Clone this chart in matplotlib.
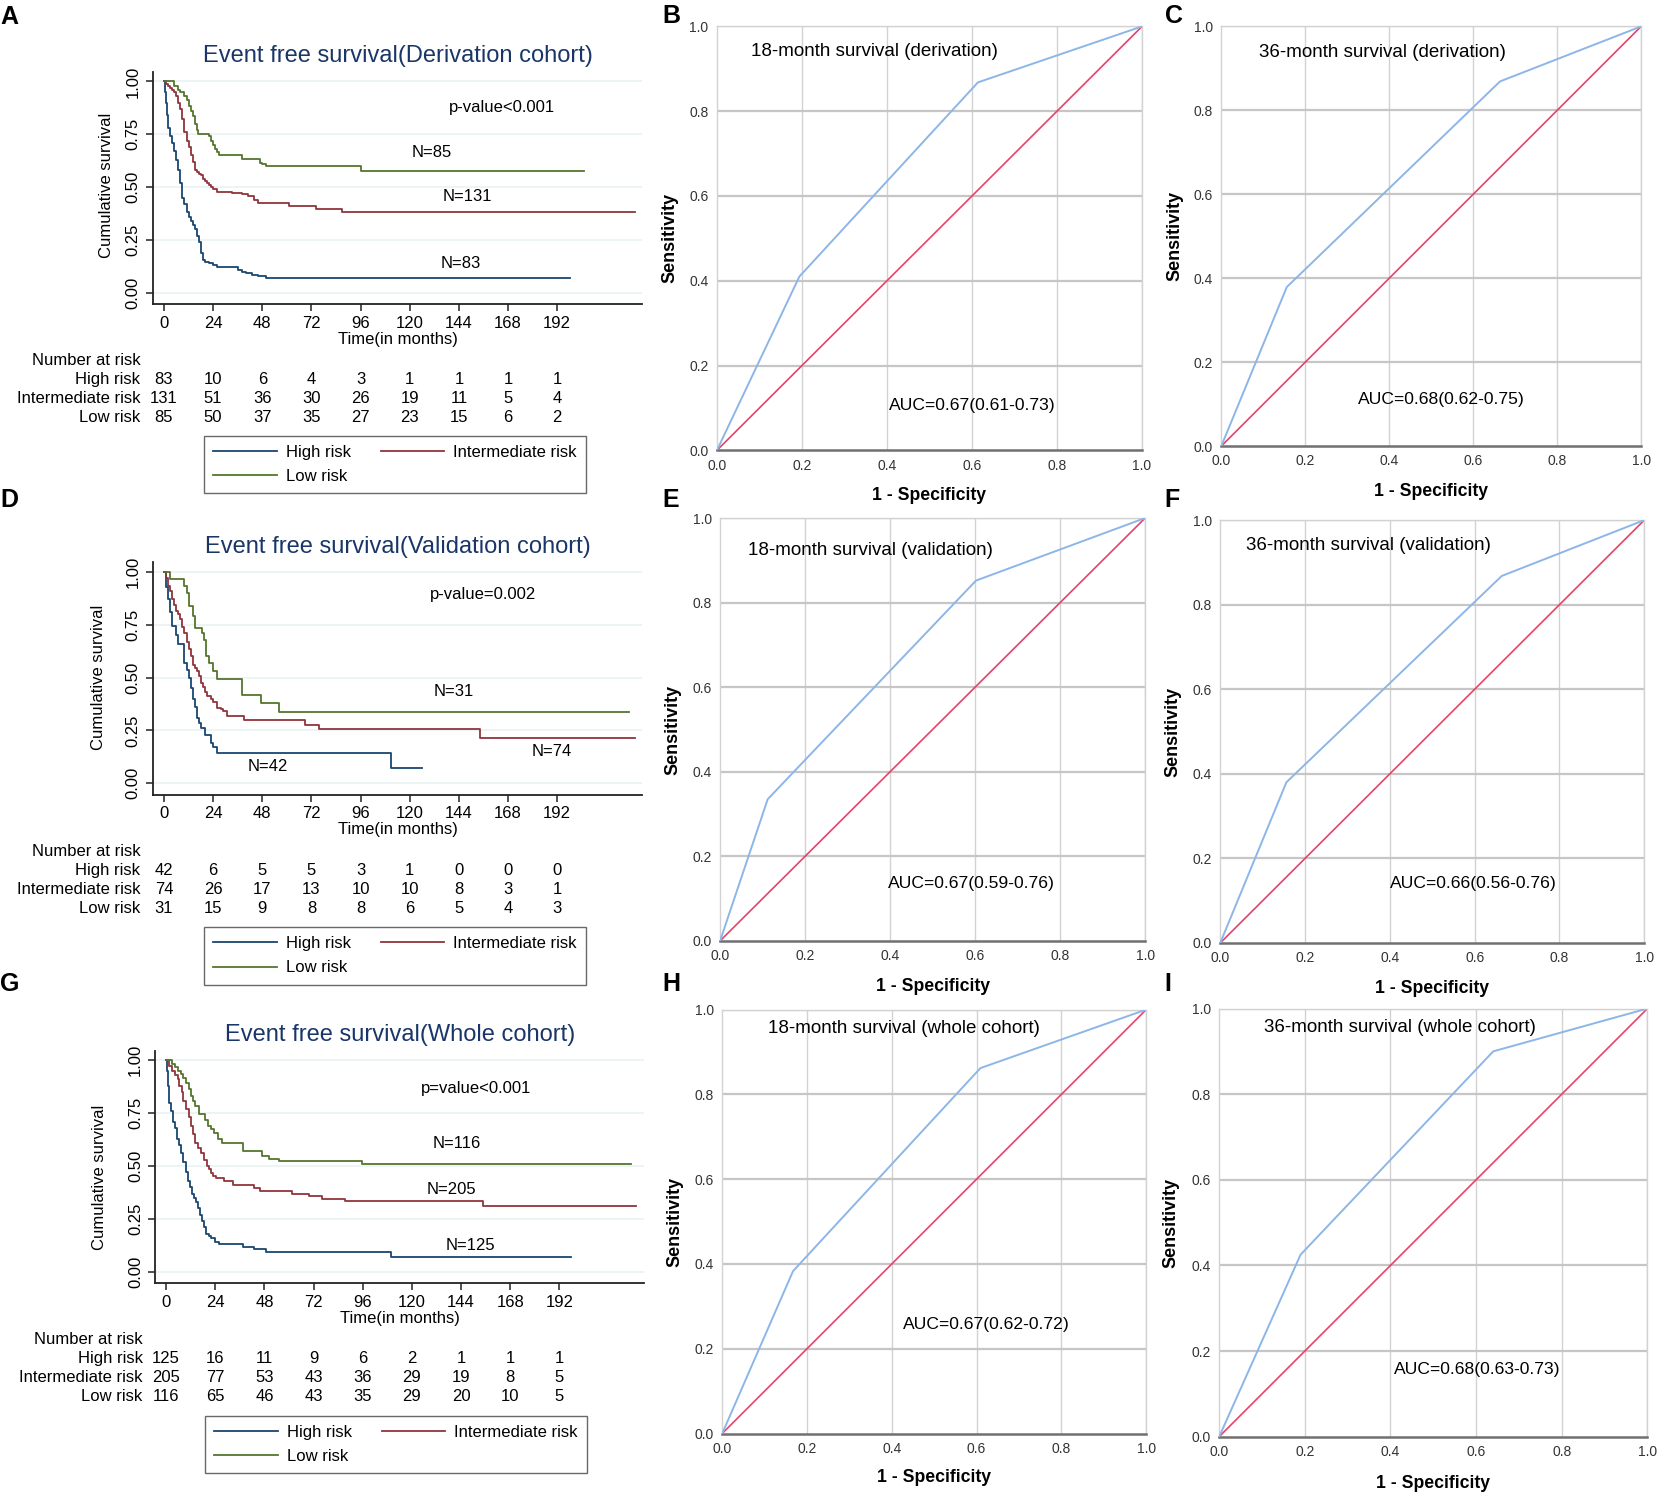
import matplotlib
matplotlib.use('Agg')
import matplotlib.pyplot as plt
import matplotlib.transforms as mtransforms
from matplotlib.lines import Line2D

plt.rcParams['font.family'] = ['Liberation Sans', 'DejaVu Sans']

# ---------------- data ----------------
# Kaplan-Meier step points (time in months, survival)
A_high_t = [0, 0.5, 1, 1.5, 2, 3, 4, 5, 6, 7, 8, 9, 10, 11, 12, 13, 14, 15, 16, 17, 18, 19, 20, 22, 24, 26, 36, 38, 40, 43, 46, 50, 198]
A_high_s = [1.0, 0.95, 0.90, 0.84, 0.78, 0.74, 0.71, 0.67, 0.63, 0.58, 0.52, 0.45, 0.42, 0.38, 0.36, 0.34, 0.32, 0.30, 0.27, 0.24, 0.19, 0.155, 0.145, 0.14, 0.13, 0.122, 0.11, 0.10, 0.094, 0.084, 0.078, 0.068, 0.068]
A_mid_t = [0, 1, 2, 3, 4, 5, 6, 7, 8, 9, 10, 11, 12, 13, 14, 15, 16, 17, 18, 19, 20, 21, 22, 23, 24, 26, 33, 38, 41, 44, 46, 61, 74, 87, 230]
A_mid_s = [1.0, 0.99, 0.98, 0.97, 0.96, 0.95, 0.93, 0.90, 0.87, 0.82, 0.76, 0.72, 0.69, 0.65, 0.62, 0.58, 0.57, 0.56, 0.555, 0.54, 0.53, 0.52, 0.51, 0.50, 0.49, 0.475, 0.47, 0.468, 0.457, 0.44, 0.425, 0.41, 0.397, 0.38, 0.38]
A_low_t = [0, 4, 5, 7, 8, 10, 11, 12, 13, 14, 15, 16, 16.5, 22, 23, 24, 25, 26, 27, 38, 47, 48, 50, 96, 205]
A_low_s = [1.0, 1.0, 0.98, 0.96, 0.95, 0.93, 0.91, 0.885, 0.86, 0.835, 0.80, 0.77, 0.75, 0.74, 0.72, 0.70, 0.68, 0.665, 0.65, 0.634, 0.615, 0.61, 0.60, 0.578, 0.578]

D_high_t = [0, 1, 2, 3, 4, 6, 7, 10, 11, 12, 13, 14, 15, 16, 17, 18, 20, 23, 24, 26, 111, 126]
D_high_s = [1.0, 0.93, 0.87, 0.81, 0.745, 0.70, 0.66, 0.57, 0.535, 0.50, 0.45, 0.40, 0.36, 0.31, 0.285, 0.26, 0.23, 0.19, 0.17, 0.143, 0.071, 0.071]
D_mid_t = [0, 1, 2, 3, 4, 5, 6, 7, 8, 9, 10, 11, 12, 13, 14, 15, 16, 17, 18, 19, 20, 21, 23, 24, 26, 28, 29, 31, 39, 69, 75.5, 154.5, 230]
D_mid_s = [1.0, 0.97, 0.935, 0.91, 0.87, 0.845, 0.816, 0.80, 0.777, 0.74, 0.71, 0.67, 0.634, 0.60, 0.56, 0.547, 0.53, 0.51, 0.475, 0.455, 0.43, 0.415, 0.40, 0.385, 0.357, 0.35, 0.34, 0.317, 0.30, 0.277, 0.257, 0.214, 0.214]
D_low_t = [0, 3, 9.7, 11.4, 12.4, 14, 15, 18.6, 19.7, 20.7, 22, 24, 26, 38.3, 47.2, 56, 227]
D_low_s = [1.0, 0.968, 0.935, 0.90, 0.84, 0.79, 0.737, 0.71, 0.68, 0.60, 0.57, 0.53, 0.495, 0.42, 0.38, 0.338, 0.338]

G_high_t = [0, 0.5, 1, 1.5, 2.5, 3.5, 4.5, 5.5, 6.5, 7.5, 8.5, 9.5, 10.5, 11.5, 12.5, 13.5, 14.5, 15.5, 16.5, 17.5, 18.5, 19.5, 21, 22, 24, 26, 37.7, 42.8, 49, 110, 197.5]
G_high_s = [1.0, 0.95, 0.88, 0.80, 0.76, 0.71, 0.68, 0.63, 0.60, 0.56, 0.52, 0.47, 0.43, 0.40, 0.37, 0.35, 0.33, 0.30, 0.27, 0.24, 0.21, 0.18, 0.17, 0.158, 0.14, 0.13, 0.116, 0.106, 0.092, 0.068, 0.068]
G_mid_t = [0, 1.5, 3, 4.5, 5.6, 6.5, 7.7, 8.5, 9.7, 11, 12.2, 13.2, 14.3, 15.5, 17, 18.5, 20, 21, 22, 23, 24.2, 28.3, 32.5, 42.8, 46, 61.5, 69.7, 76, 87.3, 154.6, 229.5]
G_mid_s = [1.0, 0.975, 0.95, 0.93, 0.91, 0.88, 0.848, 0.81, 0.77, 0.73, 0.69, 0.65, 0.61, 0.585, 0.563, 0.53, 0.50, 0.485, 0.468, 0.455, 0.444, 0.428, 0.412, 0.396, 0.38, 0.369, 0.36, 0.344, 0.334, 0.309, 0.309]
G_low_t = [0, 2.5, 3, 4.5, 6, 7.2, 8.5, 9.7, 11, 12.2, 13.2, 14.3, 15.9, 19, 20.7, 22, 23.2, 25.2, 27.3, 37.7, 47, 50, 55.3, 95.6, 226.8]
G_low_s = [1.0, 1.0, 0.985, 0.967, 0.95, 0.935, 0.915, 0.895, 0.865, 0.832, 0.81, 0.785, 0.745, 0.72, 0.69, 0.675, 0.657, 0.626, 0.61, 0.57, 0.547, 0.534, 0.523, 0.512, 0.512]

# number at risk
risk_times = [0, 24, 48, 72, 96, 120, 144, 168, 192]
A_risk_high = [83, 10, 6, 4, 3, 1, 1, 1, 1]
A_risk_mid = [131, 51, 36, 30, 26, 19, 11, 5, 4]
A_risk_low = [85, 50, 37, 35, 27, 23, 15, 6, 2]
D_risk_high = [42, 6, 5, 5, 3, 1, 0, 0, 0]
D_risk_mid = [74, 26, 17, 13, 10, 10, 8, 3, 1]
D_risk_low = [31, 15, 9, 8, 8, 6, 5, 4, 3]
G_risk_high = [125, 16, 11, 9, 6, 2, 1, 1, 1]
G_risk_mid = [205, 77, 53, 43, 36, 29, 19, 8, 5]
G_risk_low = [116, 65, 46, 43, 35, 29, 20, 10, 5]

km_titles = ['Event free survival(Derivation cohort)',
             'Event free survival(Validation cohort)',
             'Event free survival(Whole cohort)']
p_labels = ['p-value<0.001', 'p-value=0.002', 'p=value<0.001']
A_notes = [('N=85', 130.6, 0.665), ('N=131', 148, 0.455), ('N=83', 145, 0.14)]
D_notes = [('N=31', 141.4, 0.435), ('N=74', 189.4, 0.15), ('N=42', 50.6, 0.08)]
G_notes = [('N=116', 142, 0.608), ('N=205', 139.5, 0.388), ('N=125', 148.8, 0.123)]
p_pos = [(165, 0.875), (156, 0.895), (151.3, 0.868)]

# ROC curves: (1 - specificity, sensitivity)
roc_B_x = [0, 0.194, 0.614, 1]
roc_B_y = [0, 0.41, 0.868, 1]
roc_C_x = [0, 0.156, 0.664, 1]
roc_C_y = [0, 0.379, 0.869, 1]
roc_E_x = [0, 0.112, 0.602, 1]
roc_E_y = [0, 0.335, 0.852, 1]
roc_F_x = [0, 0.156, 0.664, 1]
roc_F_y = [0, 0.38, 0.868, 1]
roc_H_x = [0, 0.167, 0.609, 1]
roc_H_y = [0, 0.383, 0.862, 1]
roc_I_x = [0, 0.19, 0.64, 1]
roc_I_y = [0, 0.425, 0.90, 1]
roc_titles = ['18-month survival (derivation)', '36-month survival (derivation)',
              '18-month survival (validation)', '36-month survival (validation)',
              '18-month survival (whole cohort)', '36-month survival (whole cohort)']
auc_labels = ['AUC=0.67(0.61-0.73)', 'AUC=0.68(0.62-0.75)',
              'AUC=0.67(0.59-0.76)', 'AUC=0.66(0.56-0.76)',
              'AUC=0.67(0.62-0.72)', 'AUC=0.68(0.63-0.73)']

# ---------------- layout helpers ----------------
W, H = 1568.0, 1417.0   # measuring grid of the reference


def frame(l, t, r, b):
    return [l / W, 1 - b / H, (r - l) / W, (b - t) / H]


def fy(y):
    return 1 - y / H


c_high = '#1a476f'
c_mid = '#90353b'
c_low = '#55752f'
c_title = '#1a3668'

fig = plt.figure(figsize=(16.58, 14.98), dpi=100)

# ---------------- KM panels ----------------
km_panels = [
    dict(box=(145, 68, 607, 288), title_y=53, ylab_x=101, ylab_y=175, xlab_y=321,
         rows=[341, 359, 377, 395], leg=(193, 412),
         curves=[(A_high_t, A_high_s), (A_mid_t, A_mid_s), (A_low_t, A_low_s)],
         risk=[A_risk_high, A_risk_mid, A_risk_low], notes=A_notes),
    dict(box=(145, 532, 607, 752), title_y=517, ylab_x=93, ylab_y=641, xlab_y=785,
         rows=[805, 823, 841, 859], leg=(193, 877),
         curves=[(D_high_t, D_high_s), (D_mid_t, D_mid_s), (D_low_t, D_low_s)],
         risk=[D_risk_high, D_risk_mid, D_risk_low], notes=D_notes),
    dict(box=(147, 994, 609, 1214), title_y=979, ylab_x=94, ylab_y=1114, xlab_y=1247,
         rows=[1267, 1285, 1303, 1321], leg=(194, 1339),
         curves=[(G_high_t, G_high_s), (G_mid_t, G_mid_s), (G_low_t, G_low_s)],
         risk=[G_risk_high, G_risk_mid, G_risk_low], notes=G_notes),
]

for i, p in enumerate(km_panels):
    l, t, r, b = p['box']
    ax = fig.add_axes(frame(l, t, r, b))
    ax.set_xlim(-5.2, 233.3)
    ax.set_ylim(-0.055, 1.045)
    for yy in [0, 0.25, 0.5, 0.75, 1.0]:
        ax.axhline(yy, color='#eaf2f3', lw=1.2, zorder=0)
    cols = [c_high, c_mid, c_low]
    for (tt, ss), c in zip(p['curves'], cols):
        ax.step(tt, ss, where='post', color=c, lw=1.3)
    ax.spines['top'].set_visible(False)
    ax.spines['right'].set_visible(False)
    for s in ['left', 'bottom']:
        ax.spines[s].set_linewidth(1.3)
        ax.spines[s].set_color('#222222')
    ax.set_xticks(risk_times)
    ax.set_yticks([0, 0.25, 0.5, 0.75, 1.0])
    ax.set_yticklabels(['0.00', '0.25', '0.50', '0.75', '1.00'], rotation=90, va='center')
    ax.tick_params(axis='both', length=5, width=1.1, color='#222222', labelsize=12)
    ax.tick_params(axis='x', pad=3)
    ax.tick_params(axis='y', pad=4)

    cx = (l + r) / 2 / W
    fig.text(cx, fy(p['title_y']), km_titles[i], ha='center', va='center',
             fontsize=17, color=c_title)
    fig.text(p['ylab_x'] / W, fy(p['ylab_y']), 'Cumulative survival', rotation=90,
             ha='center', va='center', fontsize=12)
    fig.text(cx, fy(p['xlab_y']), 'Time(in months)', ha='center', va='center', fontsize=12)

    px, py = p_pos[i]
    ax.text(px, py, p_labels[i], ha='center', va='center', fontsize=12)
    for txt, nx, ny in p['notes']:
        ax.text(nx, ny, txt, ha='center', va='center', fontsize=12)

    # number at risk table
    tr = mtransforms.blended_transform_factory(ax.transData, fig.transFigure)
    ax.text(-11.5, fy(p['rows'][0]), 'Number at risk', transform=tr, ha='right',
            va='center', fontsize=12, clip_on=False)
    for lab, vals, ry in zip(['High risk', 'Intermediate risk', 'Low risk'],
                             p['risk'], p['rows'][1:]):
        ax.text(-11.5, fy(ry), lab, transform=tr, ha='right', va='center',
                fontsize=12, clip_on=False)
        for xt, v in zip(risk_times, vals):
            ax.text(xt, fy(ry), str(v), transform=tr, ha='center', va='center',
                    fontsize=12, clip_on=False)

    # legend
    ll, lt = p['leg']
    handles = [Line2D([], [], color=c_high, lw=1.3),
               Line2D([], [], color=c_low, lw=1.3),
               Line2D([], [], color=c_mid, lw=1.3)]
    leg = ax.legend(handles, ['High risk', 'Low risk', 'Intermediate risk'],
                    loc='upper left', ncol=2,
                    bbox_to_anchor=(ll / W, fy(lt)),
                    bbox_transform=fig.transFigure, fontsize=12, frameon=True,
                    fancybox=False, edgecolor='#444444', borderpad=0.55,
                    labelspacing=0.55, handlelength=3.8, handletextpad=0.55,
                    columnspacing=1.8, borderaxespad=0)
    leg.get_frame().set_linewidth(1.0)

# ---------------- ROC panels ----------------
roc_panels = [
    dict(box=(678, 25, 1080, 426), xy=(roc_B_x, roc_B_y), tpos=(0.08, 0.94),
         apos=(0.6, 0.105), sens_x=634, spec_y=469),
    dict(box=(1155, 25, 1552, 422), xy=(roc_C_x, roc_C_y), tpos=(0.09, 0.937),
         apos=(0.524, 0.111), sens_x=1111, spec_y=465),
    dict(box=(681, 490, 1083, 890), xy=(roc_E_x, roc_E_y), tpos=(0.065, 0.9225),
         apos=(0.592, 0.135), sens_x=636, spec_y=933),
    dict(box=(1154, 492, 1555, 892), xy=(roc_F_x, roc_F_y), tpos=(0.06, 0.94),
         apos=(0.596, 0.14), sens_x=1109, spec_y=935),
    dict(box=(683, 955, 1084, 1356), xy=(roc_H_x, roc_H_y), tpos=(0.107, 0.955),
         apos=(0.623, 0.257), sens_x=638, spec_y=1398),
    dict(box=(1153, 954, 1558, 1359), xy=(roc_I_x, roc_I_y), tpos=(0.104, 0.955),
         apos=(0.602, 0.156), sens_x=1107, spec_y=1403),
]

ticks = [0, 0.2, 0.4, 0.6, 0.8, 1.0]
for i, p in enumerate(roc_panels):
    l, t, r, b = p['box']
    ax = fig.add_axes(frame(l, t, r, b))
    ax.set_xlim(0, 1)
    ax.set_ylim(0, 1)
    for v in ticks[1:]:
        ax.axvline(v, color='#d2d2d2', lw=1.0, zorder=0)
    for v in ticks[1:]:
        ax.axhline(v, color='#c6c6c6', lw=1.6, zorder=0)
    ax.plot([0, 1], [0, 1], color='#e4436a', lw=1.2, zorder=2)
    ax.plot(p['xy'][0], p['xy'][1], color='#8db6e8', lw=1.4, zorder=3)
    for s in ['top', 'left', 'right']:
        ax.spines[s].set_color('#d2d2d2')
        ax.spines[s].set_linewidth(1.0)
    ax.spines['bottom'].set_color('#707070')
    ax.spines['bottom'].set_linewidth(1.8)
    ax.set_xticks(ticks)
    ax.set_yticks(ticks)
    ax.set_xticklabels(['0.0', '0.2', '0.4', '0.6', '0.8', '1.0'])
    ax.set_yticklabels(['0.0', '0.2', '0.4', '0.6', '0.8', '1.0'])
    ax.tick_params(axis='both', length=0, labelsize=10, labelcolor='#333333', pad=6)
    for lab in ax.get_xticklabels() + ax.get_yticklabels():
        lab.set_fontfamily(['Liberation Sans Narrow', 'Liberation Sans'])
    ax.text(p['tpos'][0], p['tpos'][1], roc_titles[i], ha='left', va='center',
            fontsize=13.5)
    ax.text(p['apos'][0], p['apos'][1], auc_labels[i], ha='center', va='center',
            fontsize=12.6)
    cx = (l + r) / 2 / W
    cy = (t + b) / 2
    fig.text(p['sens_x'] / W, fy(cy), 'Sensitivity', rotation=90, ha='center',
             va='center', fontsize=13, fontweight='bold')
    fig.text(cx, fy(p['spec_y']), '1 - Specificity', ha='center', va='center',
             fontsize=12.7, fontweight='bold')

# panel letters
letters = [('A', 0, 16), ('B', 626, 15), ('C', 1102, 15),
           ('D', 0, 473), ('E', 626, 473), ('F', 1101, 473),
           ('G', 0, 931), ('H', 626, 931), ('I', 1101, 931)]
for ch, lx, ly in letters:
    fig.text(lx / W, fy(ly), ch, ha='left', va='center', fontsize=18, fontweight='bold')

fig.savefig('out.png', dpi=100)
